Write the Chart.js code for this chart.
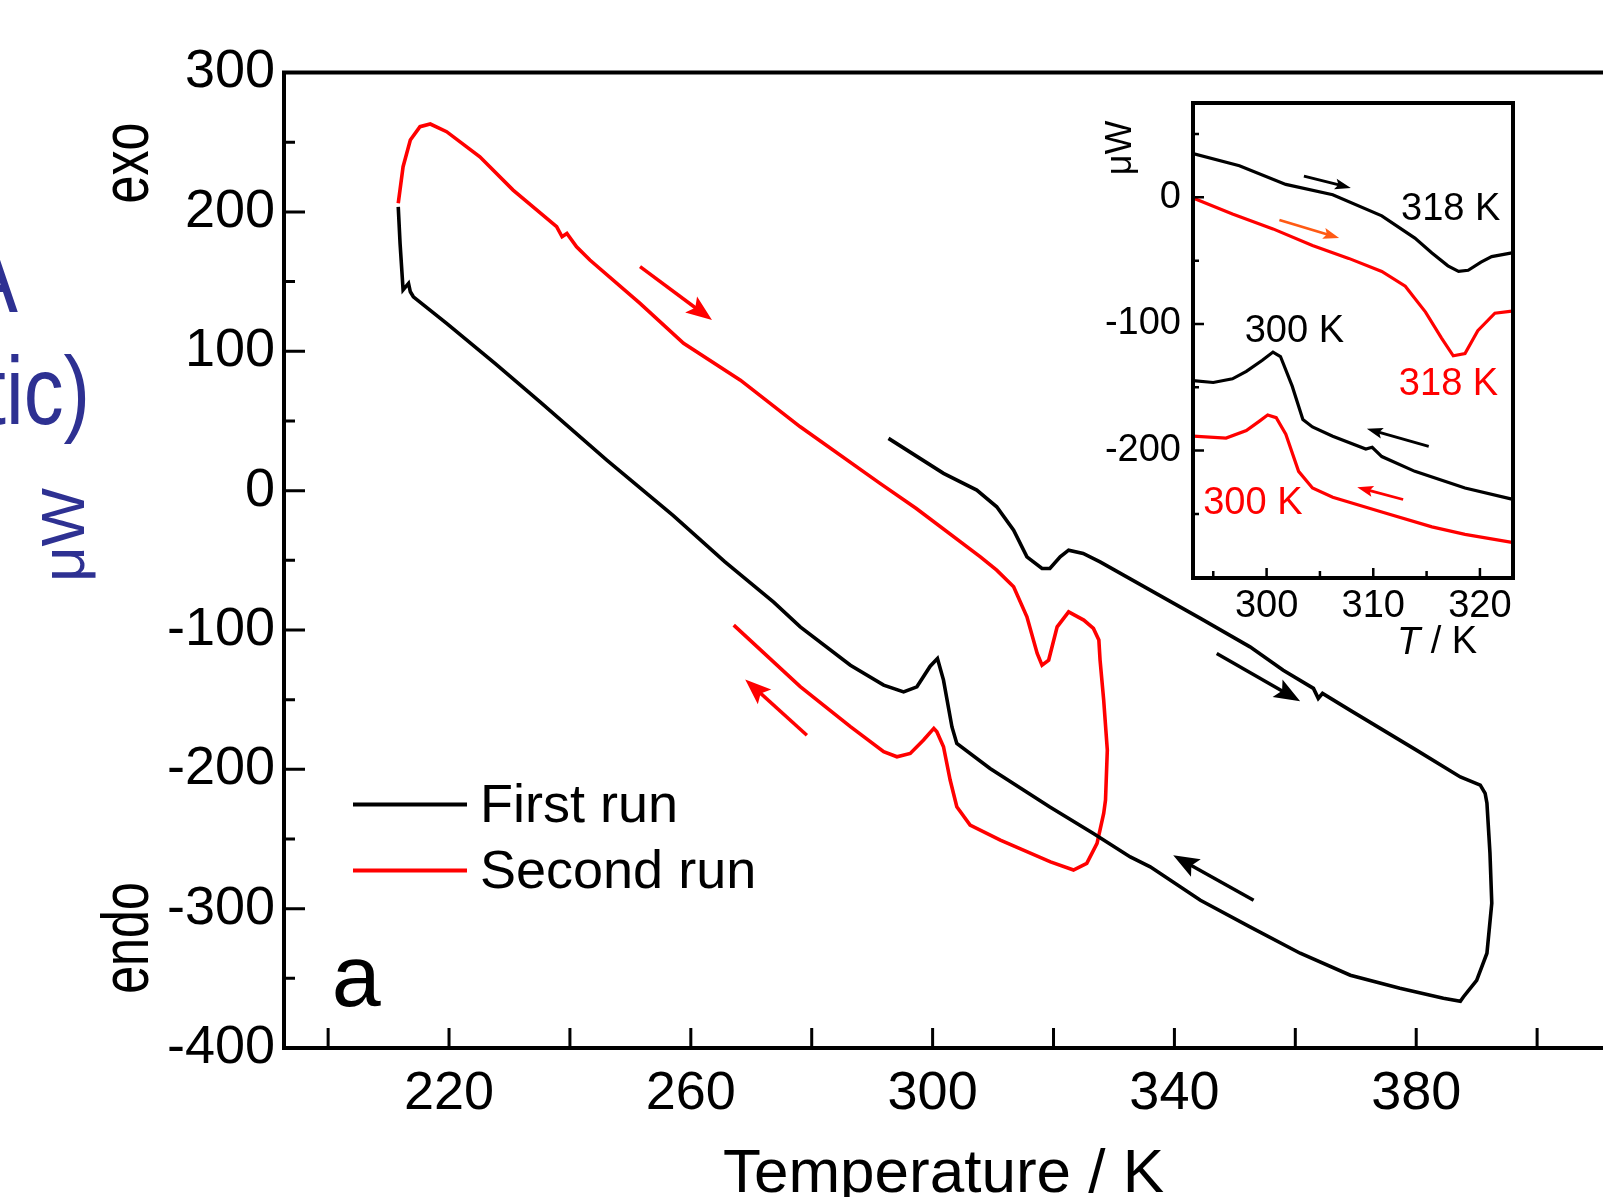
<!DOCTYPE html>
<html>
<head>
<meta charset="utf-8">
<title>DSC first and second run</title>
<script src="https://cdn.jsdelivr.net/npm/chart.js@4.4.1/dist/chart.umd.min.js"></script>
<style>
  html, body { margin: 0; padding: 0; background: #fff; overflow: hidden; }
  #wrap { position: relative; width: 1603px; height: 1197px; }
  #main { position: absolute; left: 0; top: 0; }
  #inset { position: absolute; left: 1060px; top: 95px; }
</style>
</head>
<body>
<div id="wrap">
  <canvas id="main" width="1603" height="1197"></canvas>
  <canvas id="inset" width="460" height="580"></canvas>
</div>
<script>
// first run (black): heating from ~293 K up to 392 K, cooling down to 211 K
var firstRunT = [292.7, 301.8, 307.3, 310.6, 313.4, 315.6, 318.1, 319.4, 321.1, 322.5, 324.9, 327.7, 336.0, 344.3, 352.5, 358.0, 363.0, 363.8, 364.5, 369.1,
                 380.1, 387.3, 390.6, 391.4, 391.7, 392.2, 392.5, 391.7, 390.0, 387.8, 387.3, 384.5, 377.3, 369.1, 360.8, 352.5, 344.3, 336.0, 332.7, 326.6,
                 319.4, 309.5, 304.0, 303.2, 301.8, 300.8, 299.6, 297.4, 295.2, 291.9, 286.4, 278.1, 273.7, 265.6, 257.1, 246.1, 235.1, 227.6, 219.6,
                 214.1, 213.6, 213.3, 212.4, 211.9, 211.6];
var firstRunW = [37.5, 12.4, 0.4, -11.6, -28.4, -47.5, -55.9, -55.9, -47.5, -42.7, -45.1, -51.1, -71.4, -91.7, -112.1, -128.9, -141.9, -149.1, -145.5, -157.7,
                 -186.4, -205.5, -211.4, -217.2, -224.3, -260.2, -296.1, -332.0, -351.4, -363.4, -366.5, -364.3, -357.1, -347.8, -332.0, -313.1, -294.0, -270.0, -262.9, -246.1,
                 -227.0, -199.4, -181.5, -169.6, -136.0, -120.5, -126.0, -140.8, -144.4, -139.6, -125.3, -97.8, -80.0, -51.0, -18.0, 21.9, 63.5, 91.3, 120.0,
                 139.1, 142.7, 148.7, 144.0, 177.5, 203.7];

// second run (red): heating from 211 K to 329 K, then cooling
var secondRunT = [211.6, 212.4, 213.6, 215.2, 216.9, 219.6, 225.1, 230.6, 237.8, 238.7, 239.5, 241.1, 243.3, 251.6, 258.8, 268.2, 278.1, 291.3, 297.3, 307.9,
                  310.6, 313.4, 315.6, 317.3, 318.1, 319.2, 320.6, 322.5, 325.0, 326.6, 327.5, 327.7, 328.3, 328.9, 328.6, 328.3, 327.2, 325.5, 323.3, 319.5,
                  311.2, 306.2, 304.0, 302.9, 301.8, 300.7, 300.2, 298.5, 296.3, 294.1, 291.9, 286.4, 278.1, 267.1];
var secondRunW = [206.2, 232.5, 251.6, 261.2, 263.1, 257.6, 239.6, 215.7, 189.4, 182.2, 184.6, 175.0, 165.5, 134.4, 105.7, 79.3, 45.8, 5.2, -12.8, -47.5,
                  -57.1, -69.0, -90.6, -116.8, -125.2, -121.6, -97.8, -87.0, -92.9, -98.9, -107.2, -121.6, -150.3, -186.2, -222.1, -231.7, -253.2, -267.5, -272.3, -266.4,
                  -250.8, -240.0, -226.9, -207.7, -183.8, -173.0, -170.6, -179.0, -188.6, -191.0, -187.4, -169.4, -140.7, -96.5];

// inset curves (shifted traces around the transitions)
var insetHeat1T = [293.1, 297.45, 301.8, 306.2, 310.8, 313.9, 315.5, 317.0, 318.0, 318.9, 320.1, 321.1, 323.0];
var insetHeat1W = [34.5, 24.9, 10.2, 2.0, -14.6, -32.2, -43.9, -54.1, -58.5, -57.6, -51.2, -46.8, -43.9];
var insetHeat2T = [293.1, 296.8, 300.6, 304.3, 307.7, 310.8, 313.0, 314.9, 316.4, 317.5, 318.6, 319.8, 321.4, 323.0];
var insetHeat2W = [-0.6, -13.2, -24.9, -38.0, -48.2, -58.5, -70.2, -90.6, -111.1, -125.1, -123.4, -105.3, -91.5, -89.8];
var insetCool1T = [293.1, 295.0, 296.8, 298.1, 299.6, 300.6, 301.3, 302.4, 303.4, 304.3, 306.2, 309.3, 309.9, 310.8, 313.9, 318.6, 323.0];
var insetCool1W = [-144.7, -146.2, -143.3, -137.4, -128.7, -122.2, -125.7, -149.1, -175.4, -181.3, -188.6, -198.8, -197.4, -204.7, -216.4, -229.5, -238.3];
var insetCool2T = [293.1, 296.2, 298.1, 299.3, 300.1, 300.9, 301.8, 303.0, 304.3, 306.2, 310.8, 315.5, 318.6, 323.0];
var insetCool2W = [-188.6, -190.1, -184.2, -176.9, -171.9, -174.0, -187.1, -216.4, -229.5, -236.8, -248.5, -260.2, -266.1, -272.5];

// ticks
var mainXLabels = [220, 260, 300, 340, 380];
var mainXTicks = [200, 220, 240, 260, 280, 300, 320, 340, 360, 380, 400];
var mainYLabels = [-400, -300, -200, -100, 0, 100, 200, 300];
var mainYMinor = [-350, -250, -150, -50, 50, 150, 250];
var insetXLabels = [300, 310, 320];
var insetXMinor = [295, 305, 315];
var insetYLabels = [0, -100, -200];
var insetYMinor = [50, -50, -150, -250];

// direction arrows (data coordinates)
var mainArrowFromT = [251.6, 279.2, 347.0, 353.1];
var mainArrowFromW = [160.7, -175.5, -116.9, -294.0];
var mainArrowToT = [263.5, 269.0, 360.8, 339.8];
var mainArrowToW = [122.4, -135.5, -151.1, -261.7];
var mainArrowColor = ['#ff0000', '#ff0000', '#000000', '#000000'];

var insetArrowFromT = [303.5, 301.2, 315.2, 312.8];
var insetArrowFromW = [16.8, -17.9, -196.6, -238.6];
var insetArrowToT = [307.9, 306.8, 309.4, 308.5];
var insetArrowToW = [7.4, -32.1, -182.8, -229.0];
var insetArrowColor = ['#000000', '#ff5a14', '#000000', '#ff0000'];

var insetNoteText = ['318 K', '318 K', '300 K', '300 K'];
var insetNoteT = [312.6, 312.4, 297.95, 294.06];
var insetNoteW = [-17.5, -156.3, -114, -250];
var insetNoteColor = ['#000000', '#ff0000', '#000000', '#ff0000'];

var FONT = '"Liberation Sans", Arial, sans-serif';
var NAVY = '#2e3192';
Chart.defaults.color = '#000';
Chart.defaults.font.family = FONT;

function pts(T, W) {
    return T.map(function(t, i) { return { x: t, y: W[i] }; });
}

// labels sit away from the edges, so no extra room is needed for them
function noEdgePad(scale) {
    scale.paddingTop = 0;
    scale.paddingBottom = 0;
    scale.paddingLeft = 0;
    scale.paddingRight = 0;
}

function arrow(ctx, x0, y0, x1, y1, color, lw, headLen, headW) {
    var a = Math.atan2(y1 - y0, x1 - x0);
    ctx.save();
    ctx.strokeStyle = color;
    ctx.fillStyle = color;
    ctx.lineWidth = lw;
    ctx.beginPath();
    ctx.moveTo(x0, y0);
    ctx.lineTo(x1 - Math.cos(a) * headLen * 0.7, y1 - Math.sin(a) * headLen * 0.7);
    ctx.stroke();
    ctx.translate(x1, y1);
    ctx.rotate(a);
    ctx.beginPath();
    ctx.moveTo(0, 0);
    ctx.lineTo(-headLen, headW / 2);
    ctx.lineTo(-headLen * 0.8, 0);
    ctx.lineTo(-headLen, -headW / 2);
    ctx.closePath();
    ctx.fill();
    ctx.restore();
}

// rotated text, reading bottom to top; x is the baseline, y the middle of the word
function upText(ctx, text, x, y, size, color, squeeze) {
    ctx.save();
    ctx.translate(x, y);
    ctx.rotate(-Math.PI / 2);
    ctx.scale(squeeze || 1, 1);
    ctx.font = size + 'px ' + FONT;
    ctx.fillStyle = color;
    ctx.textAlign = 'center';
    ctx.textBaseline = 'alphabetic';
    ctx.fillText(text, 0, 0);
    ctx.restore();
}

var mainDecor = {
    id: 'mainDecor',
    afterDraw: function(chart) {
        var ctx = chart.ctx, a = chart.chartArea, xs = chart.scales.x, ys = chart.scales.y;
        ctx.save();
        ctx.strokeStyle = '#000';
        ctx.lineWidth = 4;
        ctx.lineJoin = 'miter';
        ctx.beginPath();
        ctx.moveTo(a.right + 5, a.top);
        ctx.lineTo(a.left, a.top);
        ctx.lineTo(a.left, a.bottom);
        ctx.lineTo(a.right + 5, a.bottom);
        ctx.stroke();

        // ticks point inward
        ctx.lineWidth = 3;
        ctx.beginPath();
        mainYLabels.forEach(function(v) {
            var p = ys.getPixelForValue(v);
            ctx.moveTo(a.left, p);
            ctx.lineTo(a.left + 21, p);
        });
        mainYMinor.forEach(function(v) {
            var p = ys.getPixelForValue(v);
            ctx.moveTo(a.left, p);
            ctx.lineTo(a.left + 11, p);
        });
        mainXTicks.forEach(function(v) {
            var p = xs.getPixelForValue(v);
            ctx.moveTo(p, a.bottom);
            ctx.lineTo(p, a.bottom - 20);
        });
        ctx.stroke();

        // legend
        chart.data.datasets.forEach(function(ds, i) {
            var yy = a.top + 732 + i * 66;
            ctx.strokeStyle = ds.borderColor;
            ctx.lineWidth = 4;
            ctx.beginPath();
            ctx.moveTo(a.left + 69, yy);
            ctx.lineTo(a.left + 183, yy);
            ctx.stroke();
            ctx.fillStyle = '#000';
            ctx.font = '54px ' + FONT;
            ctx.textAlign = 'left';
            ctx.textBaseline = 'alphabetic';
            ctx.fillText(ds.label, a.left + 196, yy + 17);
        });

        // panel letter
        ctx.font = '88px ' + FONT;
        ctx.fillStyle = '#000';
        ctx.fillText('a', xs.getPixelForValue(200.6), ys.getPixelForValue(-370));

        for (var i = 0; i < mainArrowFromT.length; i++) {
            arrow(ctx, xs.getPixelForValue(mainArrowFromT[i]), ys.getPixelForValue(mainArrowFromW[i]),
                  xs.getPixelForValue(mainArrowToT[i]), ys.getPixelForValue(mainArrowToW[i]),
                  mainArrowColor[i], 3.5, 26, 20);
        }

        // side labels
        upText(ctx, 'exo', 148, 163, 66, '#000', 0.76);
        upText(ctx, 'endo', 148, 938, 66, '#000', 0.76);
        upText(ctx, 'μW', 84, 535, 62, NAVY, 1);

        // pieces of the slide title behind the figure
        ctx.fillStyle = NAVY;
        ctx.textAlign = 'right';
        ctx.save();
        ctx.translate(18, 312);
        ctx.scale(0.85, 1);
        ctx.font = '100px ' + FONT;
        ctx.fillText('A', 0, 0);
        ctx.restore();
        ctx.save();
        ctx.translate(90, 424);
        ctx.scale(0.83, 1);
        ctx.font = '96px ' + FONT;
        ctx.fillText('tic)', 0, 0);
        ctx.restore();
        ctx.restore();
    }
};

new Chart(document.getElementById('main'), {
    type: 'scatter',
    data: {
        datasets: [{
            label: 'First run',
            data: pts(firstRunT, firstRunW),
            borderColor: '#000000',
            borderWidth: 3.6,
            showLine: true,
            pointRadius: 0,
            tension: 0
        }, {
            label: 'Second run',
            data: pts(secondRunT, secondRunW),
            borderColor: '#ff0000',
            borderWidth: 3.6,
            showLine: true,
            pointRadius: 0,
            tension: 0
        }]
    },
    options: {
        responsive: false,
        animation: false,
        layout: { padding: { top: 72.6, left: 0, right: 0, bottom: 0 } },
        plugins: { legend: { display: false }, tooltip: { enabled: false } },
        scales: {
            x: {
                type: 'linear',
                min: 192.7,
                max: 410.9,
                afterBuildTicks: function(scale) {
                    scale.ticks = mainXLabels.map(function(v) { return { value: v }; });
                },
                afterFit: function(scale) { scale.height = 149; noEdgePad(scale); },
                grid: { display: false, drawTicks: false },
                border: { display: false },
                ticks: { font: { size: 54 }, padding: 14, maxRotation: 0, autoSkip: false },
                title: {
                    display: true,
                    text: 'Temperature / K',
                    font: { size: 62, lineHeight: 0.7 },
                    padding: 0
                }
            },
            y: {
                min: -400,
                max: 300,
                afterBuildTicks: function(scale) {
                    scale.ticks = mainYLabels.map(function(v) { return { value: v }; });
                },
                afterFit: function(scale) { scale.width = 284; noEdgePad(scale); },
                grid: { display: false, drawTicks: false },
                border: { display: false },
                ticks: { font: { size: 54 }, padding: 9 }
            }
        }
    },
    plugins: [mainDecor]
});

var insetDecor = {
    id: 'insetDecor',
    beforeDraw: function(chart) {
        var a = chart.chartArea;
        chart.ctx.save();
        chart.ctx.fillStyle = '#fff';
        chart.ctx.fillRect(a.left, a.top, a.right - a.left, a.bottom - a.top);
        chart.ctx.restore();
    },
    afterDraw: function(chart) {
        var ctx = chart.ctx, a = chart.chartArea, xs = chart.scales.x, ys = chart.scales.y;
        ctx.save();
        ctx.strokeStyle = '#000';
        ctx.lineWidth = 4;
        ctx.strokeRect(a.left, a.top, a.right - a.left, a.bottom - a.top);

        ctx.lineWidth = 2.5;
        ctx.beginPath();
        insetYLabels.forEach(function(v) {
            var p = ys.getPixelForValue(v);
            ctx.moveTo(a.left, p);
            ctx.lineTo(a.left + 11, p);
        });
        insetYMinor.forEach(function(v) {
            var p = ys.getPixelForValue(v);
            ctx.moveTo(a.left, p);
            ctx.lineTo(a.left + 6, p);
        });
        insetXLabels.forEach(function(v) {
            var p = xs.getPixelForValue(v);
            ctx.moveTo(p, a.bottom);
            ctx.lineTo(p, a.bottom - 10);
        });
        insetXMinor.forEach(function(v) {
            var p = xs.getPixelForValue(v);
            ctx.moveTo(p, a.bottom);
            ctx.lineTo(p, a.bottom - 7);
        });
        ctx.stroke();

        for (var i = 0; i < insetArrowFromT.length; i++) {
            arrow(ctx, xs.getPixelForValue(insetArrowFromT[i]), ys.getPixelForValue(insetArrowFromW[i]),
                  xs.getPixelForValue(insetArrowToT[i]), ys.getPixelForValue(insetArrowToW[i]),
                  insetArrowColor[i], 2.8, 16, 11);
        }

        ctx.font = '38px ' + FONT;
        ctx.textAlign = 'left';
        ctx.textBaseline = 'alphabetic';
        for (var j = 0; j < insetNoteText.length; j++) {
            ctx.fillStyle = insetNoteColor[j];
            ctx.fillText(insetNoteText[j], xs.getPixelForValue(insetNoteT[j]), ys.getPixelForValue(insetNoteW[j]));
        }

        // axis titles: "T / K" with italic T, and rotated "μW"
        ctx.fillStyle = '#000';
        ctx.textBaseline = 'middle';
        var cx = 377, cy = 548;
        ctx.font = 'italic 38px ' + FONT;
        var wT = ctx.measureText('T').width;
        ctx.font = '38px ' + FONT;
        var wR = ctx.measureText(' / K').width;
        var x0 = cx - (wT + wR) / 2;
        ctx.font = 'italic 38px ' + FONT;
        ctx.fillText('T', x0, cy);
        ctx.font = '38px ' + FONT;
        ctx.fillText(' / K', x0 + wT, cy);
        upText(ctx, 'μW', 71, 53, 36, '#000', 1);
        ctx.restore();
    }
};

function insetSet(T, W, color) {
    return { data: pts(T, W), borderColor: color, borderWidth: 3.2, showLine: true, pointRadius: 0, tension: 0 };
}

new Chart(document.getElementById('inset'), {
    type: 'scatter',
    data: {
        datasets: [
            insetSet(insetHeat1T, insetHeat1W, '#000000'),
            insetSet(insetHeat2T, insetHeat2W, '#ff0000'),
            insetSet(insetCool1T, insetCool1W, '#000000'),
            insetSet(insetCool2T, insetCool2W, '#ff0000')
        ]
    },
    options: {
        responsive: false,
        animation: false,
        layout: { padding: { top: 8, right: 7, left: 0, bottom: 0 } },
        plugins: { legend: { display: false }, tooltip: { enabled: false } },
        scales: {
            x: {
                type: 'linear',
                min: 293.1,
                max: 323.1,
                afterBuildTicks: function(scale) {
                    scale.ticks = insetXLabels.map(function(v) { return { value: v }; });
                },
                afterFit: function(scale) { scale.height = 97; noEdgePad(scale); },
                grid: { display: false, drawTicks: false },
                border: { display: false },
                ticks: { font: { size: 38 }, padding: 6, maxRotation: 0, autoSkip: false }
            },
            y: {
                min: -300.6,
                max: 74.5,
                afterBuildTicks: function(scale) {
                    scale.ticks = insetYLabels.map(function(v) { return { value: v }; });
                },
                afterFit: function(scale) { scale.width = 133; noEdgePad(scale); },
                grid: { display: false, drawTicks: false },
                border: { display: false },
                ticks: { font: { size: 38 }, padding: 12 }
            }
        }
    },
    plugins: [insetDecor]
});
</script>
</body>
</html>
